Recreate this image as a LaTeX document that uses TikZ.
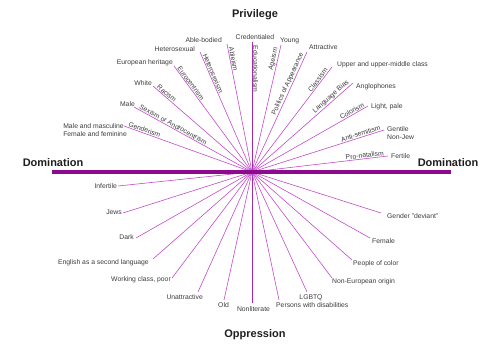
\documentclass[tikz,border=0pt]{standalone}
\usepackage{fontspec}
\setmainfont{Liberation Sans}
\usetikzlibrary{calc}
\definecolor{barpurple}{HTML}{8B0A8E}
\definecolor{spokepink}{HTML}{C24CC8}
\definecolor{axispurple}{HTML}{A52AAD}
\definecolor{labelgray}{HTML}{3C3C3C}
\definecolor{titlegray}{HTML}{1E1E1E}

\begin{document}
\begin{tikzpicture}[x=1pt, y=-1pt,
  spoke/.style={spokepink, line width=0.6pt},
  axisline/.style={axispurple, line width=0.9pt},
  lbl/.style={font=\fontsize{6.8}{8}\selectfont, text=labelgray, inner sep=1pt},
  ism/.style={lbl, inner sep=0.8pt},
  heading/.style={font=\fontsize{11}{13}\selectfont\bfseries, text=titlegray, inner sep=0pt}]
  \useasboundingbox (0,0) rectangle (483,344);
  \coordinate (c) at (252,172);

  % privilege, left half
  \coordinate (genderism) at (124,126);
  \coordinate (sexism) at (134,107);
  \coordinate (racism) at (153,86);
  \coordinate (eurocentrism) at (174,66);
  \coordinate (heterosexism) at (200,52);
  \coordinate (ableism) at (227,44);
  \coordinate (educationalism) at (252,42);
  \draw[spoke] (c) -- (genderism);
  \draw[spoke] (c) -- (sexism);
  \draw[spoke] (c) -- (racism);
  \draw[spoke] (c) -- (eurocentrism);
  \draw[spoke] (c) -- (heterosexism);
  \draw[spoke] (c) -- (ableism);
  \draw[axisline] (c) -- (educationalism);
  \node[ism, rotate=-19.8, anchor=south west] (genderismLbl) at ($(genderism)!3pt!(c)$) {Genderism};
  \node[ism, rotate=-28.9, anchor=south west] (sexismLbl) at ($(sexism)!4pt!(c)$) {Sexism or Androcentrism};
  \node[ism, rotate=-41.0, anchor=south west] (racismLbl) at ($(racism)!3pt!(c)$) {Racism};
  \node[ism, rotate=-53.7, anchor=south west] (eurocentrismLbl) at ($(eurocentrism)!3pt!(c)$) {Eurocentrism};
  \node[ism, rotate=-66.6, anchor=south west] (heterosexismLbl) at ($(heterosexism)!3pt!(c)$) {Heterosexism};
  \node[ism, rotate=-79.0, anchor=south west] (ableismLbl) at ($(ableism)!3pt!(c)$) {Ableism};
  \node[ism, rotate=-90, anchor=south west] (educationalismLbl) at ($(educationalism)!3pt!(c)$) {Educationalism};
  \node[lbl, align=left, anchor=north east] (maleFemale) at ([shift={(4,-4)}]genderism) {Male and masculine\\Female and feminine};
  \node[lbl, anchor=base east] (male) at ([shift={(2,-0.5)}]sexism) {Male};
  \node[lbl, anchor=base east] (white) at ([shift={(0,-0.5)}]racism) {White};
  \node[lbl, anchor=base east] (european) at ([shift={(0,-1.5)}]eurocentrism) {European heritage};
  \node[lbl, anchor=base east] (heterosexual) at ([shift={(-4,-0.5)}]heterosexism) {Heterosexual};
  \node[lbl, anchor=base east] (ablebodied) at ([shift={(-4,-1.5)}]ableism) {Able-bodied};
  \node[lbl, anchor=base] (credentialed) at ([shift={(3,-2.5)}]educationalism) {Credentialed};

  % privilege, right half
  \coordinate (ageism) at (281,45);
  \coordinate (appearance) at (307,52);
  \coordinate (classism) at (332,67);
  \coordinate (languagebias) at (353,83);
  \coordinate (colorism) at (368,106);
  \coordinate (antisemitism) at (384,130);
  \coordinate (pronatalism) at (388,156);
  \draw[spoke] (c) -- (ageism);
  \draw[spoke] (c) -- (appearance);
  \draw[spoke] (c) -- (classism);
  \draw[spoke] (c) -- (languagebias);
  \draw[spoke] (c) -- (colorism);
  \draw[spoke] (c) -- (antisemitism);
  \draw[spoke] (c) -- (pronatalism);
  \node[ism, rotate=77.1, anchor=south east] (ageismLbl) at ($(ageism)!3pt!(c)$) {Ageism};
  \node[ism, rotate=65.4, anchor=south east] (appearanceLbl) at ($(appearance)!2pt!(c)$) {Politics of Appearance};
  \node[ism, rotate=52.7, anchor=south east] (classismLbl) at ($(classism)!4pt!(c)$) {Classism};
  \node[ism, rotate=41.4, anchor=south east] (languagebiasLbl) at ($(languagebias)!2pt!(c)$) {Language Bias};
  \node[ism, rotate=29.6, anchor=south east] (colorismLbl) at ($(colorism)!2pt!(c)$) {Colorism};
  \node[ism, rotate=17.6, anchor=south east] (antisemitismLbl) at ($(antisemitism)!2pt!(c)$) {Anti-semitism};
  \node[ism, rotate=6.7, anchor=south east] (pronatalismLbl) at ($(pronatalism)!3pt!(c)$) {Pro-natalism};
  \node[lbl, anchor=base west] (young) at ([shift={(-2,-2.5)}]ageism) {Young};
  \node[lbl, anchor=base west] (attractive) at ([shift={(1,-2.5)}]appearance) {Attractive};
  \node[lbl, anchor=base west] (upper) at ([shift={(4,-0.5)}]classism) {Upper and upper-middle class};
  \node[lbl, anchor=base west] (anglophones) at ([shift={(2,5.5)}]languagebias) {Anglophones};
  \node[lbl, anchor=base west] (lightpale) at ([shift={(2,2.5)}]colorism) {Light, pale};
  \node[lbl, align=left, anchor=north west] (gentile) at ([shift={(2,-5)}]antisemitism) {Gentile\\Non-Jew};
  \node[lbl, anchor=base west] (fertile) at ([shift={(2,2.5)}]pronatalism) {Fertile};

  % oppression, left half
  \coordinate (infertile) at (118,186);
  \coordinate (jews) at (123,213);
  \coordinate (dark) at (136,238);
  \coordinate (english) at (153,259);
  \coordinate (working) at (172,278);
  \coordinate (unattractive) at (198,292);
  \coordinate (old) at (224,300);
  \coordinate (nonliterate) at (252,303);
  \draw[spoke] (c) -- (infertile);
  \draw[spoke] (c) -- (jews);
  \draw[spoke] (c) -- (dark);
  \draw[spoke] (c) -- (english);
  \draw[spoke] (c) -- (working);
  \draw[spoke] (c) -- (unattractive);
  \draw[spoke] (c) -- (old);
  \draw[axisline] (c) -- (nonliterate);
  \node[lbl, anchor=base east] (infertileLbl) at ([shift={(0,2.5)}]infertile) {Infertile};
  \node[lbl, anchor=base east] (jewsLbl) at ([shift={(0,1.5)}]jews) {Jews};
  \node[lbl, anchor=base east] (darkLbl) at ([shift={(-1,1.5)}]dark) {Dark};
  \node[lbl, anchor=base east] (englishLbl) at ([shift={(-3,5.5)}]english) {English as a second language};
  \node[lbl, anchor=base east] (workingLbl) at ([shift={(0,3.5)}]working) {Working class, poor};
  \node[lbl, anchor=base east] (unattractiveLbl) at ([shift={(6,7.5)}]unattractive) {Unattractive};
  \node[lbl, anchor=base] (oldLbl) at ([shift={(-0.5,7.5)}]old) {Old};
  \node[lbl, anchor=base] (nonliterateLbl) at ([shift={(1.5,8.5)}]nonliterate) {Nonliterate};

  % oppression, right half
  \coordinate (disabilities) at (279,300);
  \coordinate (lgbtq) at (307,292);
  \coordinate (noneuropean) at (332,278);
  \coordinate (peopleofcolor) at (352,260);
  \coordinate (female) at (370,238);
  \coordinate (deviant) at (381,213);
  \draw[spoke] (c) -- (disabilities);
  \draw[spoke] (c) -- (lgbtq);
  \draw[spoke] (c) -- (noneuropean);
  \draw[spoke] (c) -- (peopleofcolor);
  \draw[spoke] (c) -- (female);
  \draw[spoke] (c) -- (deviant);
  \node[lbl, anchor=base west] (disabilitiesLbl) at ([shift={(-4,7.5)}]disabilities) {Persons with disabilities};
  \node[lbl, anchor=base] (lgbtqLbl) at ([shift={(4,7.5)}]lgbtq) {LGBTQ};
  \node[lbl, anchor=base west] (noneuropeanLbl) at ([shift={(-1,5.5)}]noneuropean) {Non-European origin};
  \node[lbl, anchor=base west] (peopleofcolorLbl) at ([shift={(0,5.5)}]peopleofcolor) {People of color};
  \node[lbl, anchor=base west] (femaleLbl) at ([shift={(1,5.5)}]female) {Female};
  \node[lbl, anchor=base west] (deviantLbl) at ([shift={(5,5.5)}]deviant) {Gender "deviant"};

  % domination axis
  \coordinate (domL) at (52,172);
  \coordinate (domR) at (451,172);
  \draw[barpurple, line width=3.8pt] (domL) -- (domR);
  \node[heading, anchor=base] (dominationL) at ([shift={(1,-5)}]domL) {Domination};
  \node[heading, anchor=base] (dominationR) at ([shift={(-3,-5)}]domR) {Domination};

  % titles
  \node[heading, anchor=base] (privilege) at (255,18) {Privilege};
  \node[heading, anchor=base] (oppression) at (255,338) {Oppression};
\end{tikzpicture}
\end{document}
